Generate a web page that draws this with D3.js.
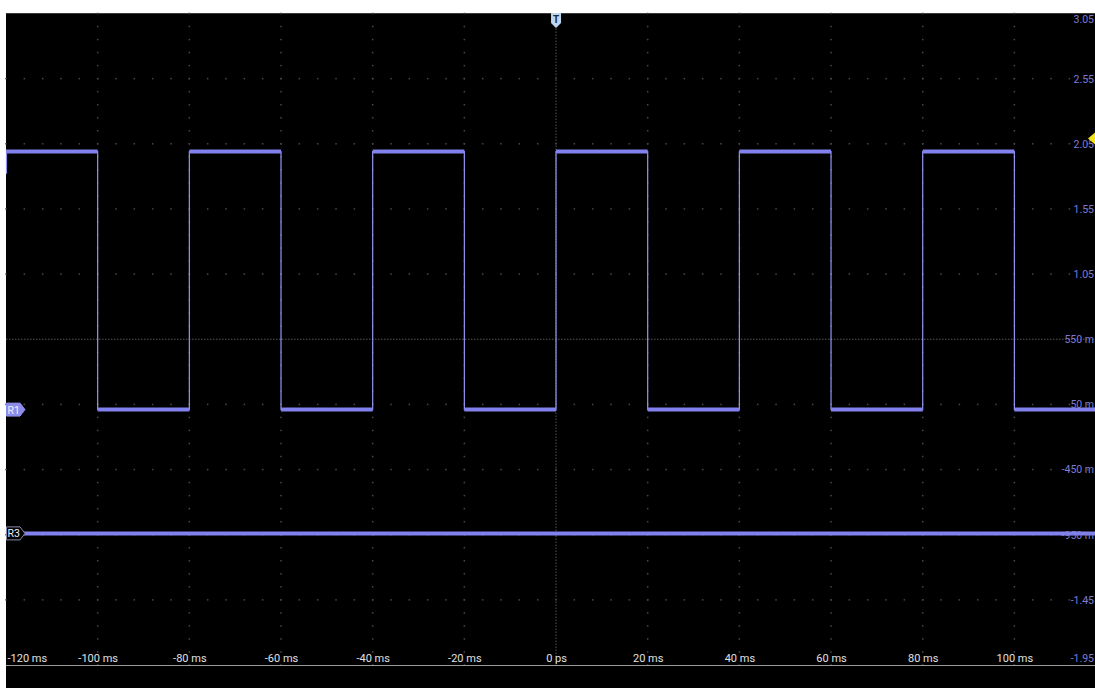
<!DOCTYPE html>
<html>
<head>
<meta charset="utf-8">
<script src="https://cdnjs.cloudflare.com/ajax/libs/d3/7.8.5/d3.min.js"></script>
<style>
  html, body { margin: 0; padding: 0; background: #fff; }
  svg { display: block; }
  text { font-family: Roboto, "Liberation Sans", sans-serif; }
</style>
</head>
<body>
<svg id="scope"></svg>
<script>
// time axis (ms) and labels as shown on the scope
var timeTicks = [-120, -100, -80, -60, -40, -20, 0, 20, 40, 60, 80, 100];
var timeLabels = ["-120 ms", "-100 ms", "-80 ms", "-60 ms", "-40 ms", "-20 ms", "0 ps",
                  "20 ms", "40 ms", "60 ms", "80 ms", "100 ms"];

// vertical axis (V) and labels
var voltTicks = [3.05, 2.55, 2.05, 1.55, 1.05, 0.55, 0.05, -0.45, -0.95, -1.45, -1.95];
var voltLabels = ["3.05", "2.55", "2.05", "1.55", "1.05", "550 m", "50 m", "-450 m",
                  "-950 m", "-1.45", "-1.95"];

// R1: square wave, level held from each edge time to the next
var r1Time = [-120, -100, -80, -60, -40, -20, 0, 20, 40, 60, 80, 100];
var r1Volt = [1.99, 0.01, 1.99, 0.01, 1.99, 0.01, 1.99, 0.01, 1.99, 0.01, 1.99, 0.01];
var r1Start = 1.82;   // trace comes in from the left edge here
var r1Ref = 0.01;     // R1 marker level

// R3: flat trace
var r3Time = [-120, 120];
var r3Volt = [-0.94, -0.94];

var trigLevel = 2.09;  // yellow trigger marker on the right

var svgWidth = 1095, svgHeight = 688;
var plotLeft = 6, plotTop = 13.5, plotBottom = 665;
var traceColor = "#8282ee";

var svg = d3.select("#scope")
  .attr("width", svgWidth)
  .attr("height", svgHeight);

// black screen area
svg.append("rect")
  .attr("x", plotLeft).attr("y", 13)
  .attr("width", svgWidth - plotLeft).attr("height", svgHeight - 13)
  .attr("fill", "#000");

var x = d3.scaleLinear().domain([-120, 120]).range([plotLeft, plotLeft + 12 * 91.67]);
var y = d3.scaleLinear().domain([-1.95, 3.05]).range([plotBottom, plotTop]);

var g = svg.append("g");

// grid: dots at subdivisions along each division line
var grid = g.append("g").attr("fill", "#484848");
timeTicks.forEach(function(t) {
  if (t === 0 || t === -120) return;
  for (var j = 0; j <= 50; j++) {
    var v = 3.05 - j * 0.1;
    grid.append("rect")
      .attr("x", x(t) - 0.75).attr("y", y(v) - 0.75)
      .attr("width", 1.5).attr("height", 1.5);
  }
});
voltTicks.forEach(function(v) {
  if (v === 0.55 || v === 3.05 || v === -1.95) return;
  for (var k = 0; k <= 60; k++) {
    var t = -120 + k * 4;
    grid.append("rect")
      .attr("x", x(t) - 0.75).attr("y", y(v) - 0.75)
      .attr("width", 1.5).attr("height", 1.5);
  }
});

// center lines
g.append("line")
  .attr("x1", x(0)).attr("x2", x(0))
  .attr("y1", plotTop).attr("y2", plotBottom)
  .attr("stroke", "#555").attr("stroke-width", 1)
  .attr("stroke-dasharray", "1.5 1.5");
g.append("line")
  .attr("x1", plotLeft).attr("x2", svgWidth)
  .attr("y1", y(0.55)).attr("y2", y(0.55))
  .attr("stroke", "#555").attr("stroke-width", 1)
  .attr("stroke-dasharray", "1.5 1.5");

// frame lines
g.append("line")
  .attr("x1", plotLeft).attr("x2", svgWidth)
  .attr("y1", 13.5).attr("y2", 13.5)
  .attr("stroke", "#3a3a3a");
g.append("line")
  .attr("x1", plotLeft).attr("x2", svgWidth)
  .attr("y1", plotBottom + 0.5).attr("y2", plotBottom + 0.5)
  .attr("stroke", "#9a9a9a");

// R1 thin outline (includes the edges)
var r1Points = [];
r1Time.forEach(function(t, i) { r1Points.push([t, r1Volt[i]]); });
r1Points.push([120, r1Volt[r1Volt.length - 1]]);

var stepLine = d3.line()
  .x(function(d) { return x(d[0]); })
  .y(function(d) { return y(d[1]); })
  .curve(d3.curveStepAfter);

g.append("path")
  .datum(r1Points)
  .attr("fill", "none")
  .attr("stroke", "#9494f2")
  .attr("stroke-width", 1.2)
  .attr("d", stepLine);

// entry at the left edge
g.append("line")
  .attr("x1", x(-120) + 0.5).attr("x2", x(-120) + 0.5)
  .attr("y1", y(r1Volt[0])).attr("y2", y(r1Start))
  .attr("stroke", "#9494f2").attr("stroke-width", 1.2);

// R1 flat levels drawn as thick noisy bands
r1Time.forEach(function(t, i) {
  var t2 = i < r1Time.length - 1 ? r1Time[i + 1] : 120;
  g.append("line")
    .attr("x1", x(t)).attr("x2", x(t2))
    .attr("y1", y(r1Volt[i])).attr("y2", y(r1Volt[i]))
    .attr("stroke", traceColor)
    .attr("stroke-width", 4);
});

// R3 flat trace
g.append("path")
  .datum(r3Time.map(function(t, i) { return [t, r3Volt[i]]; }))
  .attr("fill", "none")
  .attr("stroke", traceColor)
  .attr("stroke-width", 4)
  .attr("d", d3.line().x(function(d) { return x(d[0]); }).y(function(d) { return y(d[1]); }));

// time labels
var xAxis = g.append("g")
  .attr("transform", "translate(0," + 654 + ")")
  .call(d3.axisBottom(x).tickValues(timeTicks)
    .tickFormat(function(d, i) { return timeLabels[i]; })
    .tickSize(0).tickPadding(0));
xAxis.select(".domain").remove();
xAxis.selectAll("text")
  .attr("fill", "#e0e0e0")
  .attr("font-size", "11px")
  .attr("font-family", "Roboto, sans-serif")
  .attr("dy", "0.71em")
  .attr("y", 0);
xAxis.selectAll("text").filter(function(d) { return d === -120; })
  .attr("text-anchor", "start").attr("x", 1);

// volt labels against the right edge
var yAxis = g.append("g")
  .attr("transform", "translate(" + 1094 + ",0)")
  .call(d3.axisLeft(y).tickValues(voltTicks)
    .tickFormat(function(d, i) { return voltLabels[i]; })
    .tickSize(0).tickPadding(0));
yAxis.select(".domain").remove();
yAxis.selectAll("text")
  .attr("fill", "#7c7cd8")
  .attr("font-size", "10.5px")
  .attr("font-family", "Roboto, sans-serif");
yAxis.selectAll(".tick").filter(function(d) { return d === 3.05; })
  .select("text").attr("dy", "0.9em");
yAxis.selectAll(".tick").filter(function(d) { return d === -1.95; })
  .select("text").attr("dy", "-0.3em");

// trigger marker at the top
var tx = x(0);
g.append("path")
  .attr("d", "M" + (tx - 5) + ",13 L" + (tx + 5) + ",13 L" + (tx + 5) + ",23 L" + tx + ",28 L" + (tx - 5) + ",23 Z")
  .attr("fill", "#bcd6f0");
g.append("text")
  .attr("x", tx).attr("y", 23)
  .attr("text-anchor", "middle")
  .attr("font-size", "10px")
  .attr("font-weight", "bold")
  .attr("fill", "#1a2a3a")
  .text("T");

// trigger level marker on the right
var ty = y(trigLevel);
g.append("path")
  .attr("d", "M1095," + (ty - 6) + " L1088," + ty + " L1095," + (ty + 6) + " Z")
  .attr("fill", "#f2e21a");

// channel markers on the left
function chanMarker(label, v, filled) {
  var cy = y(v);
  g.append("path")
    .attr("d", "M" + (plotLeft + 0.5) + "," + (cy - 6.5) + " L" + (plotLeft + 14) + "," + (cy - 6.5) + " L" + (plotLeft + 19) + "," + cy +
               " L" + (plotLeft + 14) + "," + (cy + 6.5) + " L" + (plotLeft + 0.5) + "," + (cy + 6.5) + " Z")
    .attr("fill", filled ? "#8c8cec" : "#000")
    .attr("stroke", filled ? "#8c8cec" : "#8a8aa8")
    .attr("stroke-width", 1);
  g.append("text")
    .attr("x", plotLeft + 1.5).attr("y", cy + 4)
    .attr("font-size", "10.5px")
    .attr("fill", "#f0f0ff")
    .text(label);
}
chanMarker("R1", r1Ref, true);
chanMarker("R3", r3Volt[0], false);
</script>
</body>
</html>
